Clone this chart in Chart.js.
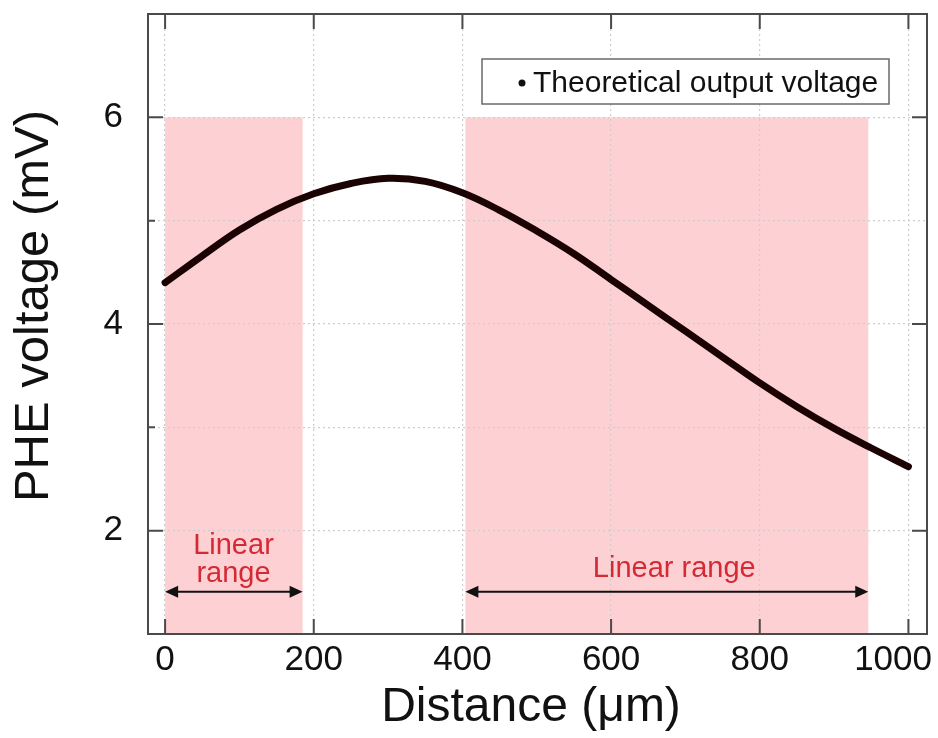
<!DOCTYPE html>
<html>
<head>
<meta charset="utf-8">
<script src="https://cdn.jsdelivr.net/npm/chart.js@4.4.1/dist/chart.umd.min.js"></script>
<style>
  html, body { margin: 0; padding: 0; background: #fff; }
</style>
</head>
<body>
<canvas id="chart" width="938" height="738"></canvas>
<script>
// values
const DISTANCE = [0, 50, 100, 150, 200, 250, 300, 350, 400, 450, 500,
                  550, 600, 650, 700, 750, 800, 850, 900, 950, 1000];
const VOLTAGE = [4.40, 4.66, 4.91, 5.11, 5.26, 5.36, 5.41, 5.38, 5.27, 5.10, 4.90,
                 4.68, 4.43, 4.18, 3.93, 3.68, 3.43, 3.20, 2.99, 2.80, 2.62];
const X_TICKS = [0, 200, 400, 600, 800, 1000];
const Y_TICKS = [1, 2, 3, 4, 5, 6, 7];
const Y_LABELS = [2, 4, 6];
const LINEAR_RANGES = [[0, 185], [404, 946]];
const RANGE_TOP = 6;
const RANGE_TEXT = [['Linear', 'range'], ['Linear range']];
const SERIES_LABEL = 'Theoretical output voltage';

const FONT = "Arial, 'Liberation Sans', sans-serif";
const PINK = '#fdd1d3';
const RED = '#d42a36';
const FRAME = '#4a4a4a';

// anchors for the red notes and arrows, in data units
const notes = [
  { x: 92, lines: [1.77, 1.50], arrowY: 1.41 },
  { x: 685, lines: [1.55], arrowY: 1.41 }
];

const points = DISTANCE.map((d, i) => ({ x: d, y: VOLTAGE[i] }));

function arrow(ctx, x1, x2, y) {
  const h = 13, w = 6;
  ctx.beginPath();
  ctx.moveTo(x1 + h - 2, y);
  ctx.lineTo(x2 - h + 2, y);
  ctx.stroke();
  ctx.beginPath();
  ctx.moveTo(x1, y); ctx.lineTo(x1 + h, y - w); ctx.lineTo(x1 + h, y + w); ctx.closePath();
  ctx.fill();
  ctx.beginPath();
  ctx.moveTo(x2, y); ctx.lineTo(x2 - h, y - w); ctx.lineTo(x2 - h, y + w); ctx.closePath();
  ctx.fill();
}

// stop chart.js from reserving room for overhanging tick labels
function noPadding(s) {
  s.paddingLeft = 0; s.paddingRight = 0; s.paddingTop = 0; s.paddingBottom = 0;
}

const decor = {
  id: 'decor',
  beforeDraw(chart) {
    const { ctx, scales: { x, y } } = chart;
    ctx.save();
    ctx.fillStyle = '#fff';
    ctx.fillRect(0, 0, chart.width, chart.height);
    ctx.fillStyle = PINK;
    const t = y.getPixelForValue(RANGE_TOP);
    const b = y.getPixelForValue(Y_TICKS[0]);
    LINEAR_RANGES.forEach(([from, to]) => {
      const l = x.getPixelForValue(from);
      const r = x.getPixelForValue(to);
      ctx.fillRect(l, t, r - l, b - t);
    });
    ctx.restore();
  },
  afterDatasetsDraw(chart) {
    const { ctx, scales: { x, y } } = chart;
    ctx.save();
    ctx.fillStyle = RED;
    ctx.font = '29px ' + FONT;
    ctx.textAlign = 'center';
    ctx.textBaseline = 'alphabetic';
    notes.forEach((n, i) => {
      RANGE_TEXT[i].forEach((txt, j) => {
        ctx.fillText(txt, x.getPixelForValue(n.x), y.getPixelForValue(n.lines[j]));
      });
    });
    ctx.strokeStyle = '#111';
    ctx.fillStyle = '#111';
    ctx.lineWidth = 2;
    notes.forEach((n, i) => {
      const [from, to] = LINEAR_RANGES[i];
      arrow(ctx, x.getPixelForValue(from), x.getPixelForValue(to), y.getPixelForValue(n.arrowY));
    });
    ctx.restore();
  },
  afterDraw(chart) {
    const { ctx, chartArea: a, scales: { x, y } } = chart;
    ctx.save();
    // frame
    ctx.strokeStyle = FRAME;
    ctx.lineWidth = 2;
    ctx.strokeRect(a.left, a.top, a.right - a.left, a.bottom - a.top);
    // inward ticks
    ctx.beginPath();
    X_TICKS.forEach(v => {
      const px = x.getPixelForValue(v);
      ctx.moveTo(px, a.bottom); ctx.lineTo(px, a.bottom - 15);
      ctx.moveTo(px, a.top); ctx.lineTo(px, a.top + 15);
    });
    Y_TICKS.slice(1, -1).forEach(v => {
      const py = y.getPixelForValue(v);
      if (Y_LABELS.includes(v)) {
        ctx.moveTo(a.left, py); ctx.lineTo(a.left + 15, py);
        ctx.moveTo(a.right, py); ctx.lineTo(a.right - 15, py);
      } else {
        ctx.moveTo(a.left, py); ctx.lineTo(a.left + 7, py);
      }
    });
    ctx.stroke();

    // x tick labels, last one kept inside the canvas like the original
    ctx.fillStyle = '#111';
    ctx.font = '35px ' + FONT;
    ctx.textAlign = 'center';
    ctx.textBaseline = 'middle';
    X_TICKS.forEach(v => {
      const s = String(v);
      const w = ctx.measureText(s).width;
      const px = Math.min(x.getPixelForValue(v), chart.width - 6 - w / 2);
      ctx.fillText(s, px, a.bottom + 26);
    });

    // axis titles
    ctx.font = '48px ' + FONT;
    ctx.fillText('Distance (\u03bcm)', 531, 708);
    ctx.translate(34, 306);
    ctx.rotate(-Math.PI / 2);
    ctx.font = '49px ' + FONT;
    ctx.fillText('PHE voltage (mV)', 0, 0);
    ctx.setTransform(1, 0, 0, 1, 0, 0);

    // legend box
    ctx.fillStyle = '#fff';
    ctx.fillRect(482, 59, 407, 45);
    ctx.strokeStyle = '#6a6a6a';
    ctx.lineWidth = 1.5;
    ctx.strokeRect(482, 59, 407, 45);
    ctx.fillStyle = '#111';
    ctx.beginPath();
    ctx.arc(522, 83, 3.5, 0, Math.PI * 2);
    ctx.fill();
    ctx.font = '30px ' + FONT;
    ctx.textAlign = 'left';
    ctx.textBaseline = 'alphabetic';
    ctx.fillText(chart.data.datasets[0].label, 533, 92);
    ctx.restore();
  }
};

new Chart(document.getElementById('chart'), {
  type: 'line',
  data: {
    datasets: [{
      label: SERIES_LABEL,
      data: points,
      borderColor: '#1c0303',
      borderWidth: 7,
      borderCapStyle: 'round',
      pointRadius: 0,
      tension: 0.4,
      fill: false
    }]
  },
  options: {
    responsive: false,
    animation: false,
    layout: { padding: { left: 0, top: 14, right: 11, bottom: 0 } },
    plugins: {
      legend: { display: false },
      tooltip: { enabled: false }
    },
    scales: {
      x: {
        type: 'linear',
        min: -23,
        max: 1025,
        afterBuildTicks: s => { s.ticks = X_TICKS.map(v => ({ value: v })); },
        afterFit: s => { s.height = 104; noPadding(s); },
        grid: { color: '#cdcdcd', lineWidth: 1.2, drawTicks: false },
        border: { display: false, dash: [2, 3] },
        ticks: { display: false }
      },
      y: {
        type: 'linear',
        min: 1,
        max: 7,
        afterBuildTicks: s => { s.ticks = Y_TICKS.map(v => ({ value: v })); },
        afterFit: s => { s.width = 148; noPadding(s); },
        grid: { color: '#cdcdcd', lineWidth: 1.2, drawTicks: false },
        border: { display: false, dash: [2, 3] },
        ticks: {
          padding: 25,
          color: '#111',
          font: { family: FONT, size: 35 },
          callback: v => Y_LABELS.includes(v) ? String(v) : ''
        }
      }
    }
  },
  plugins: [decor]
});
</script>
</body>
</html>
